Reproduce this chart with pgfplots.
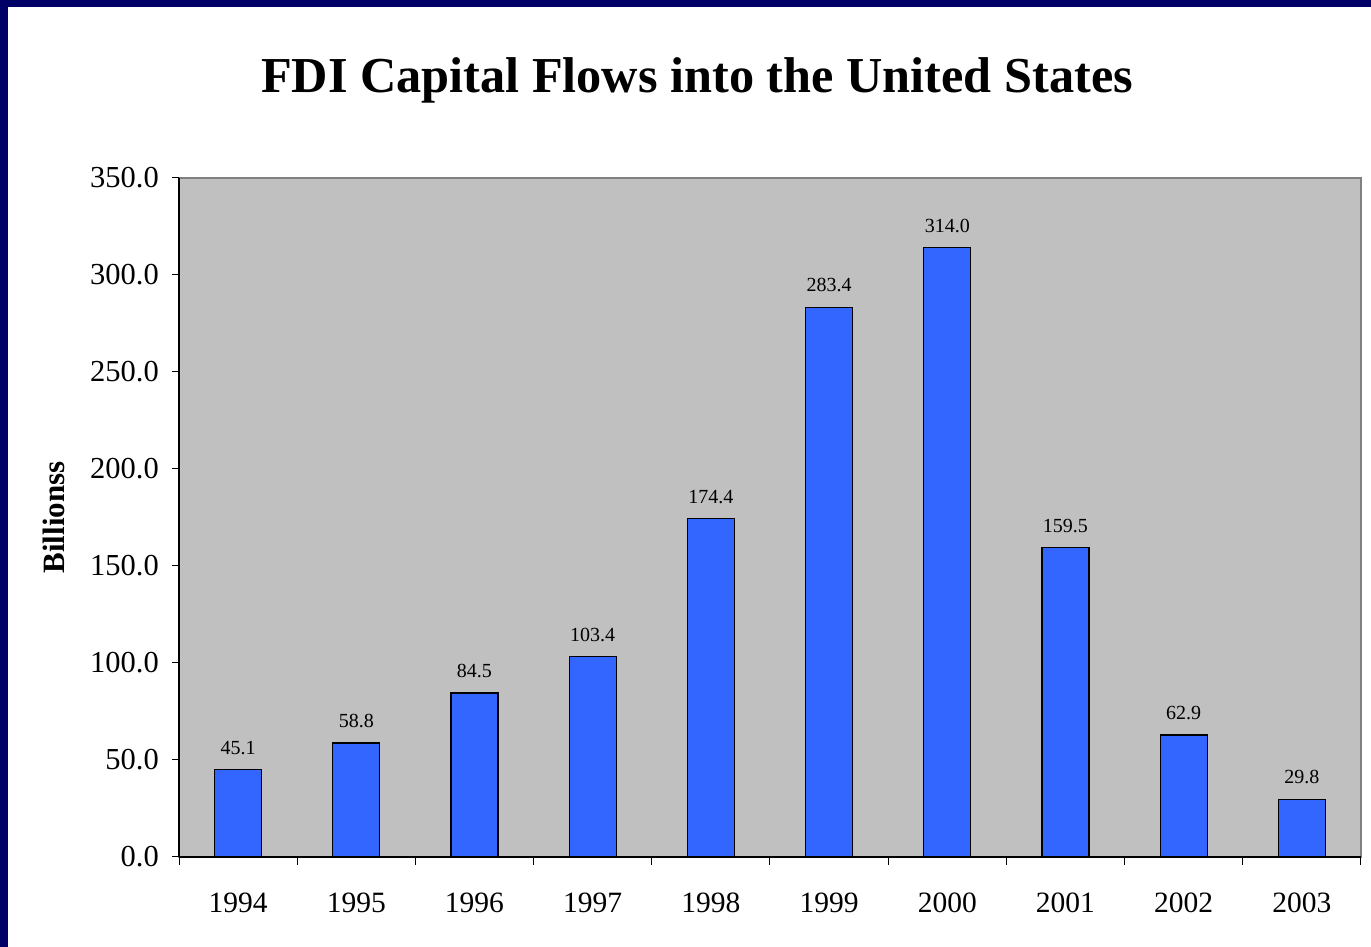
\documentclass[border=0pt]{standalone}
\usepackage{pgfplots}
\pgfplotsset{compat=1.18}
\usepackage{fontspec}
\setmainfont{Liberation Serif}
\definecolor{navyb}{HTML}{000066}
\definecolor{bargray}{HTML}{C0C0C0}
\definecolor{barblue}{HTML}{3366FF}
\begin{document}
\begin{tikzpicture}[x=1pt,y=1pt]
\fill[white] (0,0) rectangle (1371,947);
\fill[navyb] (0,940) rectangle (1371,947);
\fill[navyb] (0,0) rectangle (8,947);
\node[anchor=base,font=\fontsize{50.3}{56}\selectfont\bfseries] at (697,854) {FDI Capital Flows into the United States};
\begin{axis}[
  at={(179pt,90pt)}, anchor=south west,
  scale only axis, width=1182pt, height=679pt,
  xmin=-0.5, xmax=9.5, ymin=0, ymax=350,
  axis background/.style={fill=bargray, draw=gray, line width=1.5pt},
  axis x line*=bottom, axis y line*=left,
  axis line style={-, black, line width=1.3pt},
  xtick={0,...,9},
  xticklabels={1994,1995,1996,1997,1998,1999,2000,2001,2002,2003},
  major x tick style={draw=none},
  minor xtick={-0.5,0.5,...,9.5},
  minor tick length=8pt,
  minor x tick style={black, line width=1pt},
  ytick={0,50,...,350},
  major tick length=7pt,
  y tick style={black, line width=1pt},
  tick align=outside,
  /pgf/number format/assume math mode=true,
  ticklabel style={font=\fontsize{29.5}{33}\selectfont},
  yticklabel style={/pgf/number format/fixed, /pgf/number format/fixed zerofill, /pgf/number format/precision=1, inner xsep=13pt, font=\fontsize{30.5}{34}\selectfont},
  xticklabel style={yshift=-25pt},
  ylabel={Billionss},
  ylabel style={at={(axis description cs:-0.1058,0.5)}, anchor=center, font=\fontsize{31}{35}\selectfont\bfseries},
  nodes near coords,
  nodes near coords style={font=\fontsize{20}{24}\selectfont, /pgf/number format/fixed, /pgf/number format/fixed zerofill, /pgf/number format/precision=1, yshift=11pt},
]
\addplot[ybar, bar width=47pt, fill=barblue, draw=black, line width=1.2pt] coordinates {
(0,45.1) (1,58.8) (2,84.5) (3,103.4) (4,174.4) (5,283.4) (6,314.0) (7,159.5) (8,62.9) (9,29.8)
};
\end{axis}
\end{tikzpicture}
\end{document}
